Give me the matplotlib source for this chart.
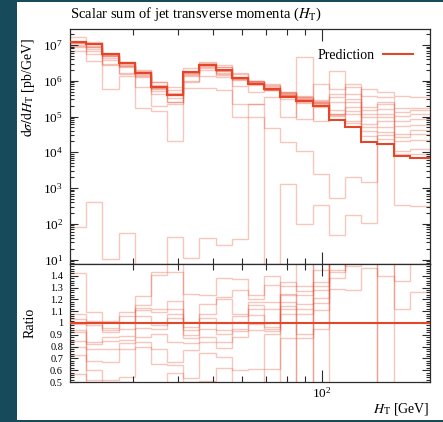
import numpy as np
import matplotlib
matplotlib.use("Agg")
import matplotlib.pyplot as plt
from matplotlib.patches import Rectangle
from matplotlib.lines import Line2D
from matplotlib.ticker import (FixedLocator, LogLocator, MultipleLocator,
                               NullFormatter, FuncFormatter, LogFormatterMathtext)

plt.rcParams['font.family'] = ['Liberation Serif', 'DejaVu Serif']
plt.rcParams['mathtext.fontset'] = 'stix'

# H_T binning [GeV]
edges = [20.0, 22.18, 24.60, 27.28, 30.25, 33.55, 37.21, 41.26, 45.76, 50.75,
         56.28, 62.42, 69.22, 76.77, 85.14, 94.42, 104.7, 116.1, 128.8, 142.8,
         158.4, 175.7, 200.0]

# central prediction, dsigma/dH_T [pb/GeV]
prediction = [1.2e7, 1.1e7, 5.7e6, 3.1e6, 1.6e6, 6.6e5, 3.9e5, 1.8e6, 2.7e6, 2.0e6,
              1.2e6, 8.1e5, 5.9e5, 3.6e5, 2.8e5, 2.0e5, 8.0e4, 5.2e4, 1.9e4, 1.7e4,
              8.1e3, 7.1e3]

# variation / prediction
variations = [
    [1.42, 1.09, 1.02, 1.09, 1.23, 1.43, 1.70, 1.25, 1.24, 1.38, 1.37, 1.24, 1.40, 0.27, 16.0, 0.37, 24.0, 1.48, 31.0, 28.0, 47.0, 49.0],
    [1.08, 1.02, 0.96, 1.06, 1.15, 1.41, 1.43, 1.01, 1.16, 1.22, 1.28, 1.20, 1.32, 1.35, 1.31, 4.0, 7.4, 15.7, 20.0, 20.5, 22.0, 25.0],
    [1.03, 1.00, 0.94, 1.01, 1.13, 1.12, 1.19, 0.97, 1.08, 1.20, 1.08, 1.18, 1.18, 1.31, 1.27, 1.45, 5.4, 12.7, 9.6, 14.8, 16.0, 21.0],
    [1.01, 0.98, 0.92, 0.95, 1.11, 1.09, 1.12, 0.94, 1.04, 1.00, 1.06, 1.15, 1.12, 1.25, 1.24, 1.35, 4.3, 8.4, 7.8, 12.8, 13.0, 17.0],
    [0.99, 0.84, 0.88, 0.89, 1.06, 0.98, 1.08, 0.90, 1.01, 0.94, 1.01, 1.12, 1.00, 1.24, 1.16, 1.31, 3.1, 6.0, 6.2, 9.6, 9.5, 12.0],
    [0.94, 0.82, 0.85, 0.86, 0.96, 0.95, 1.04, 0.87, 0.95, 0.91, 0.95, 1.07, 0.97, 1.18, 1.12, 1.28, 1.84, 4.8, 5.0, 7.0, 6.8, 8.0],
    [0.92, 0.78, 0.78, 0.83, 0.88, 0.91, 0.84, 0.83, 0.88, 0.84, 0.93, 0.99, 0.95, 1.14, 1.08, 1.21, 1.45, 3.5, 3.3, 4.5, 4.0, 6.0],
    [0.85, 0.68, 0.67, 0.78, 0.84, 0.78, 0.67, 0.77, 0.84, 0.79, 0.88, 0.94, 0.93, 1.12, 0.91, 1.17, 1.43, 2.8, 2.6, 2.9, 3.2, 4.5],
    [0.80, 0.60, 0.52, 0.54, 0.80, 0.65, 0.64, 0.53, 0.75, 0.71, 0.60, 0.61, 0.91, 1.08, 0.87, 1.11, 1.38, 2.26, 2.1, 2.1, 2.6, 3.2],
    [0.73, 0.52, 0.48, 0.50, 0.41, 0.30, 0.58, 0.50, 0.51, 0.62, 0.19, 0.28, 0.61, 0.87, 0.30, 0.95, 1.29, 1.28, 1.47, 1.40, 1.12, 1.26],
]

# low-statistics variations, absolute [pb/GeV]
low_stat = [
    [80, 410, 10.5, 55, 0, 0, 42, 11, 40, 26, 38, 2.2e5, 0, 1.3e3, 100, 340, 49, 178, 105, 1.0e5, 330, 320],
    [6.8e6, 3.5e6, 5.7e5, 1.4e6, 1.7e5, 1.4e5, 2.1e4, 6.1e5, 6.2e5, 5.6e5, 1.0e5, 1.0e5, 4.7e4,
     1.9e4, 1.1e4, 2.5e3, 525, 2.0e3, 1.5e3, 3.0e4, 1.1e4, 1.2e4],
]

title = r'Scalar sum of jet transverse momenta ($H_\mathrm{T}$)'
red = '#e4462a'
frame = '#2b2b2b'

edges = np.array(edges)
pred = np.array(prediction)
curves = [pred * np.array(r) for r in variations] + [np.array(v, float) for v in low_stat]

W, H = 443, 422
fig = plt.figure(figsize=(W / 100, H / 100), dpi=100, facecolor='#174b5b')
fig.patches.append(Rectangle((17 / W, 2 / H), 1, 418 / H, transform=fig.transFigure,
                             facecolor='white', edgecolor='none', zorder=-10))

ax = fig.add_axes([70 / W, 1 - 264 / H, 360 / W, 235 / H])
rax = fig.add_axes([70 / W, 1 - 382 / H, 360 / W, 118 / H], sharex=ax)

for c in curves:
    vals = np.where(c > 0, c, 1e-3)
    ax.stairs(vals, edges, baseline=None, color=red, alpha=0.3, lw=1.0)
    rax.stairs(vals / pred, edges, baseline=None, color=red, alpha=0.3, lw=1.0)

ax.stairs(pred, edges, baseline=None, color=red, lw=1.5, zorder=5)
rax.stairs(pred / pred, edges, baseline=None, color=red, lw=1.5, zorder=5)

ax.set_xscale('log')
ax.set_yscale('log')
ax.set_xlim(20, 200)
ax.set_ylim(7.5, 2.8e7)
rax.set_ylim(0.5, 1.5)

for a in (ax, rax):
    a.xaxis.set_major_locator(FixedLocator([100]))
    a.xaxis.set_minor_locator(FixedLocator([30, 40, 50, 60, 70, 80, 90]))
    a.xaxis.set_minor_formatter(NullFormatter())
    a.tick_params(which='both', direction='in', top=True, right=True,
                  color=frame, width=0.8, labelsize=9.5)
    a.tick_params(axis='x', which='major', length=8.6)
    a.tick_params(axis='x', which='minor', length=4.3)
    a.tick_params(axis='y', which='major', length=5.5, pad=5)
    a.tick_params(axis='y', which='minor', length=3.2)
    for s in a.spines.values():
        s.set_color(frame)
        s.set_linewidth(0.9)

ax.tick_params(axis='x', labelbottom=False)
ax.yaxis.set_major_locator(LogLocator(base=10, numticks=20))
ax.yaxis.set_minor_locator(LogLocator(base=10, subs=np.arange(2, 10), numticks=20))
ax.yaxis.set_major_formatter(LogFormatterMathtext())
ax.yaxis.set_minor_formatter(NullFormatter())

rax.yaxis.set_major_locator(FixedLocator(np.round(np.arange(0.5, 1.45, 0.1), 1)))
rax.yaxis.set_minor_locator(MultipleLocator(0.02))
rax.yaxis.set_major_formatter(FuncFormatter(lambda v, p: '%g' % v))
rax.tick_params(axis='y', labelsize=7.5)
rax.xaxis.set_major_formatter(LogFormatterMathtext())
rax.tick_params(axis='x', which='major', pad=3)

leg_line = Line2D([], [], color=red, lw=1.5)
ax.legend([leg_line], ['Prediction'], loc='upper right', bbox_to_anchor=(0.953, 0.915),
          frameon=False, markerfirst=False, handlelength=2.2, handletextpad=0.6,
          borderpad=0, borderaxespad=0, fontsize=10)

fig.text(70 / W, 1 - 14 / H, title, ha='left', va='center', fontsize=10.5)
fig.text(28 / W, 1 - 88 / H, r'$\mathrm{d}\sigma/\mathrm{d}H_\mathrm{T}$ [pb/GeV]',
         rotation=90, ha='center', va='center', fontsize=10)
fig.text(30 / W, 1 - 323 / H, 'Ratio', rotation=90, ha='center', va='center', fontsize=10)
fig.text(430 / W, 1 - 409 / H, r'$H_\mathrm{T}$ [GeV]', ha='right', va='center', fontsize=10)

fig.savefig('out.png', dpi=100, facecolor=fig.get_facecolor())
